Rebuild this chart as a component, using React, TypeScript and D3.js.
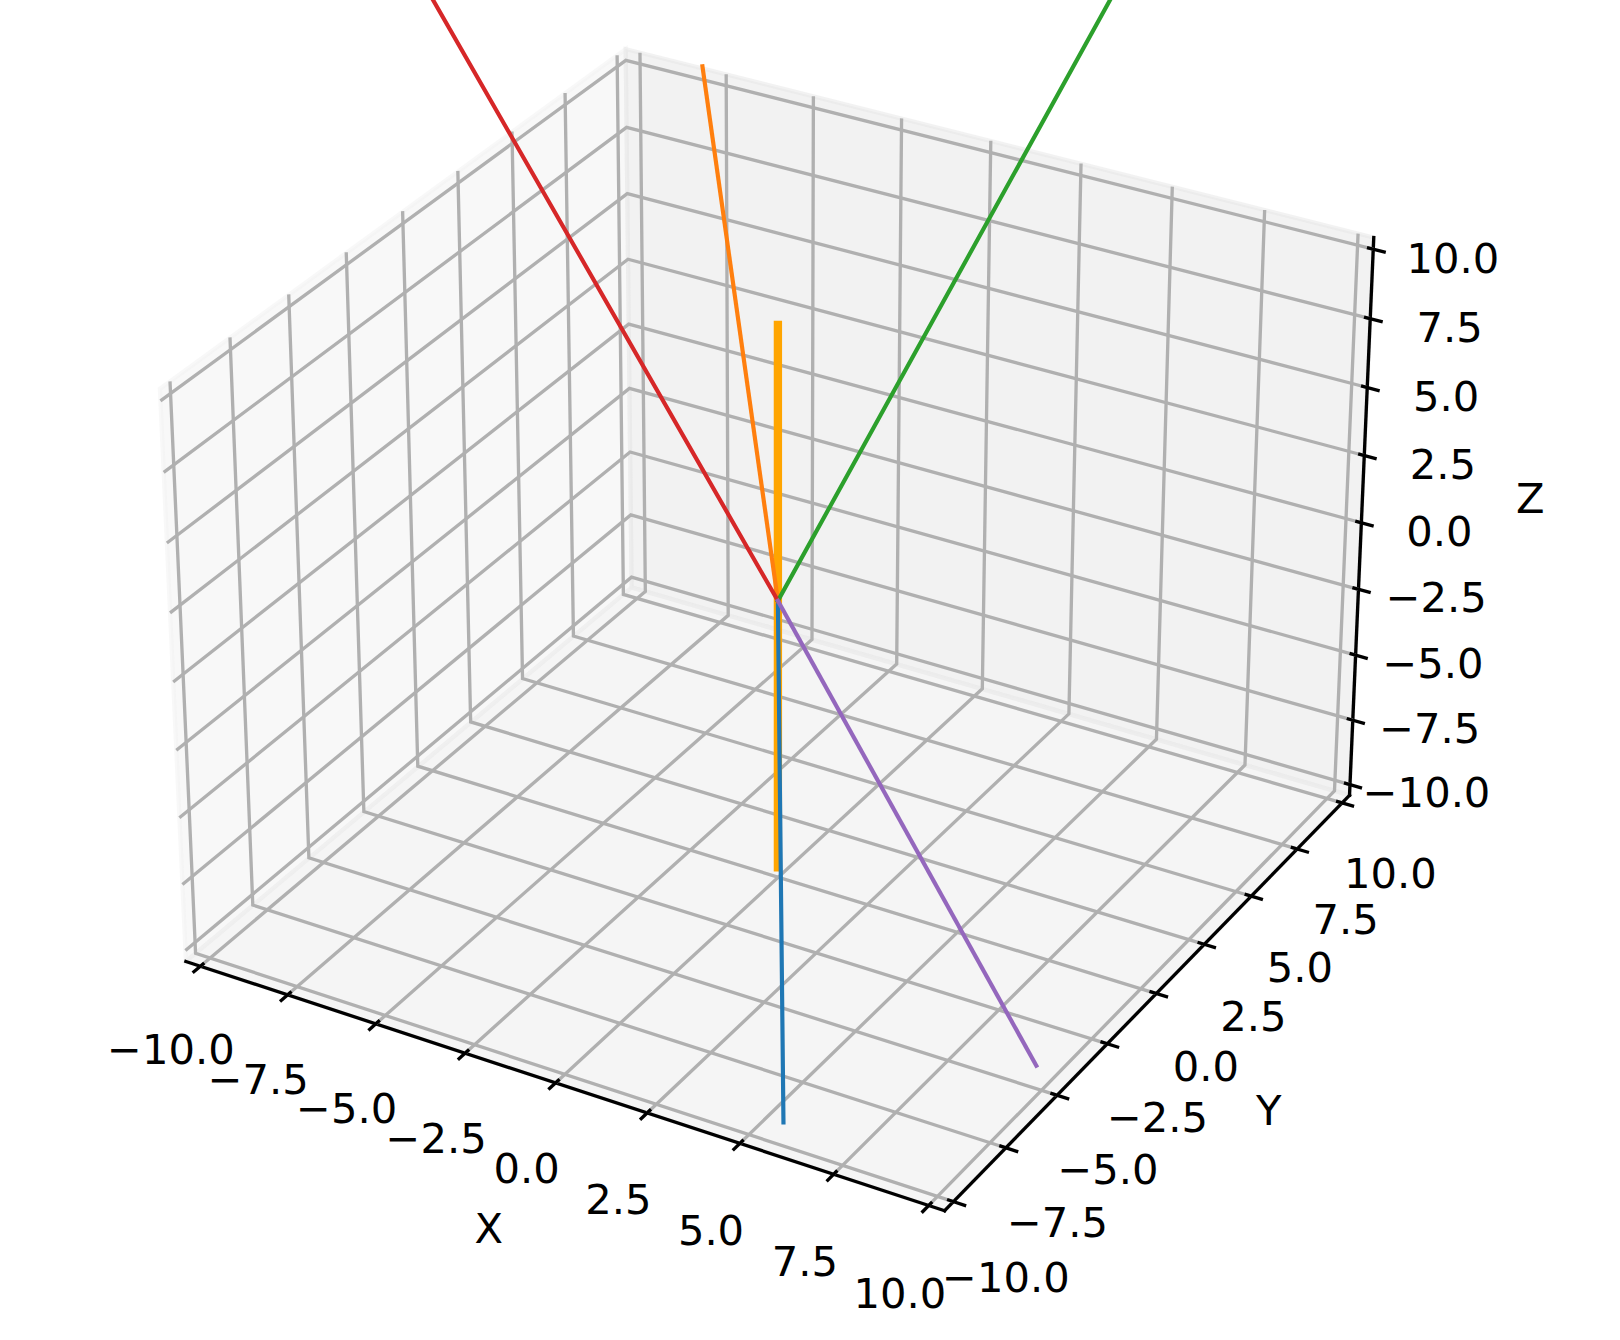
import React from 'react';
import * as d3 from 'd3';

const width = 1620;
const height = 1340;

// axis ticks and labels
const tickValues = [-10, -7.5, -5, -2.5, 0, 2.5, 5, 7.5, 10];
const axisNames = ['X', 'Y', 'Z'];

// line end points, every line starts at the origin
const origin = [0, 0, 0];
const blueEnd = [0.16, 0, -20.03];
const orangeEnd = [-2.02, 0, 18.24];
const greenEnd = [9.34, 0, 25.94];
const redEnd = [-10.32, 0, 19.96];
const purpleEnd = [7.24, 0, -14.6];
const stemBottom = [0, 0, -10.05];
const stemTop = [0, 0, 9.95];

// view used by a default 3d axes: elev 30, azim -60
const elev = (30 * Math.PI) / 180;
const azim = (-60 * Math.PI) / 180;
const distX = 11; // fitted, the sideways convergence is a bit weaker than the vertical one
const distY = 10;
const n = [Math.cos(elev) * Math.cos(azim), Math.cos(elev) * Math.sin(azim), Math.sin(elev)];
const u = [-n[1], n[0], 0].map(d => d / Math.hypot(n[0], n[1]));
const v = [
  n[1] * u[2] - n[2] * u[1],
  n[2] * u[0] - n[0] * u[2],
  n[0] * u[1] - n[1] * u[0],
];
const boxK = (1.8294640721620434 * 25) / 24 / Math.hypot(4, 4, 3);

const domain = [-10, 10];
const sx = d3.scaleLinear().domain(domain).range([-2 * boxK, 2 * boxK]);
const sy = d3.scaleLinear().domain(domain).range([-2 * boxK, 2 * boxK]);
const sz = d3.scaleLinear().domain(domain).range([-1.5 * boxK, 1.5 * boxK]);
const screenX = d3.scaleLinear().domain([0, 1]).range([777.9, 777.9 + 701.2 * distX]);
const screenY = d3.scaleLinear().domain([0, 1]).range([600.8, 600.8 - 701.2 * distY]);

const dot = (a, b) => a[0] * b[0] + a[1] * b[1] + a[2] * b[2];

const project = (p): [number, number] => {
  const d = [sx(p[0]), sy(p[1]), sz(p[2])];
  const depth = dot(n, d);
  return [screenX(dot(u, d) / (distX - depth)), screenY(dot(v, d) / (distY - depth))];
};

const path3d = d3.line().x(d => d[0]).y(d => d[1]);
const toPath = pts => path3d(pts.map(project));

// panes stick out of the limits by 1/48 of the range
const T = 10 + 20 / 48;
const tickOut = 20 / 12 / 5;
const tickIn = 20 / 12 / 10;
const labelGap = 1.45;

const fmt = t => {
  const s = Math.abs(t).toFixed(1);
  return t < 0 ? '\u2212' + s : s;
};

const panes = [
  { pts: [[-T, -T, -T], [-T, T, -T], [-T, T, T], [-T, -T, T]], color: 'rgba(242,242,242,0.5)' },
  { pts: [[-T, T, -T], [T, T, -T], [T, T, T], [-T, T, T]], color: 'rgba(230,230,230,0.5)' },
  { pts: [[-T, -T, -T], [T, -T, -T], [T, T, -T], [-T, T, -T]], color: 'rgba(236,236,236,0.5)' },
];

const axes = [
  {
    line: [[-T, -T, -T], [T, -T, -T]],
    labelAt: t => [t, -T - labelGap, -T - labelGap],
    labelNudge: [2.5, 17],
    tick: t => [[t, -T + tickIn, -T], [t, -T - tickOut, -T]],
    grid: t => [[t, -T, -T], [t, T, -T], [t, T, T]],
    mid: [0, -T, -T],
    nameOffset: [-67, 146],
  },
  {
    line: [[T, -T, -T], [T, T, -T]],
    labelAt: t => [T + labelGap, t, -T - labelGap],
    labelNudge: [-2.5, 18],
    tick: t => [[T - tickIn, t, -T], [T + tickOut, t, -T]],
    grid: t => [[T, t, -T], [-T, t, -T], [-T, t, T]],
    mid: [T, 0, -T],
    nameOffset: [113, 117],
  },
  {
    line: [[T, T, -T], [T, T, T]],
    labelAt: t => [T + labelGap, T + labelGap, t],
    labelNudge: [-1.5, 19],
    tick: t => [[T - tickIn, T, t], [T + tickOut, T, t]],
    grid: t => [[-T, -T, t], [-T, T, t], [T, T, t]],
    mid: [T, T, 0],
    nameOffset: [169, -24],
  },
];

const series = [
  { name: 'stem', end: stemTop, start: stemBottom, color: '#ffa500', lw: 8.33 },
  { name: 'blue', end: blueEnd, start: origin, color: '#1f77b4', lw: 4.17 },
  { name: 'orange', end: orangeEnd, start: origin, color: '#ff7f0e', lw: 4.17 },
  { name: 'green', end: greenEnd, start: origin, color: '#2ca02c', lw: 4.17 },
  { name: 'red', end: redEnd, start: origin, color: '#d62728', lw: 4.17 },
  { name: 'purple', end: purpleEnd, start: origin, color: '#9467bd', lw: 4.17 },
];

const App = () => {
  const font = { fontFamily: '"DejaVu Sans"', fontSize: 41.67, fill: '#000' };
  return (
    <svg
      width={width}
      height={height}
      viewBox={`0 0 ${width} ${height}`}
      style={{ position: 'absolute', left: 0, top: 0, background: '#fff' }}
    >
      {panes.map((p, i) => (
        <path key={i} d={toPath(p.pts) + 'Z'} fill={p.color} stroke={p.color} strokeWidth={4.17} />
      ))}
      {axes.map((a, i) => (
        <path key={i} d={toPath(a.line)} fill="none" stroke="#000" strokeWidth={3.33} strokeLinecap="square" />
      ))}
      {axes.map((a, i) =>
        tickValues.map(t => (
          <path key={`${i}-${t}`} d={toPath(a.grid(t))} fill="none" stroke="#b0b0b0" strokeWidth={3.33} />
        ))
      )}
      {axes.map((a, i) =>
        tickValues.map(t => (
          <path key={`${i}-${t}`} d={toPath(a.tick(t))} fill="none" stroke="#000" strokeWidth={3.33} />
        ))
      )}
      {axes.map((a, i) =>
        tickValues.map(t => {
          const [px, py] = project(a.labelAt(t));
          return (
            <text
              key={`${i}-${t}`}
              x={px + a.labelNudge[0]}
              y={py + a.labelNudge[1]}
              textAnchor="middle"
              dominantBaseline="central"
              {...font}
            >
              {fmt(t)}
            </text>
          );
        })
      )}
      {axes.map((a, i) => {
        const [px, py] = project(a.mid);
        return (
          <text
            key={i}
            x={px + a.nameOffset[0]}
            y={py + a.nameOffset[1]}
            textAnchor="middle"
            dominantBaseline="central"
            {...font}
          >
            {axisNames[i]}
          </text>
        );
      })}
      {series.map(s => (
        <path
          key={s.name}
          d={toPath([s.start, s.end])}
          fill="none"
          stroke={s.color}
          strokeWidth={s.lw}
          strokeLinecap="square"
        />
      ))}
    </svg>
  );
};

export default App;
